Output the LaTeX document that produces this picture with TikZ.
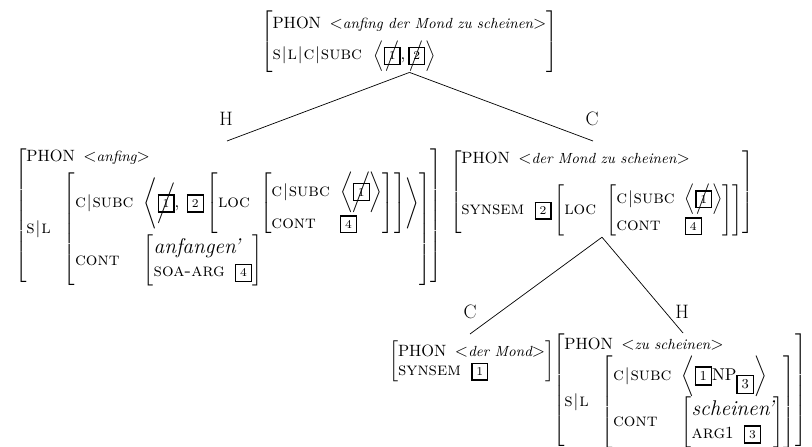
\documentclass[tikz,border=0pt]{standalone}
\usepackage{amsmath}
\usepackage{graphicx}

% feature names, path bars, PHON values and structure-sharing tags
\newcommand\F[1]{\text{\normalfont\fontsize{10.7}{12}\selectfont\scshape #1}}
\newcommand\pb{\mkern1mu|\mkern1mu}
\newcommand\Ph{\text{\normalfont\fontsize{9.6}{11}\selectfont PHON}}
\newcommand\pv[1]{\mathord{<}\text{\fontsize{8.6}{10}\selectfont\itshape #1}\mathord{>}}
\newcommand\tg[1]{\text{\fboxsep=2.2pt\fboxrule=0.8pt\fbox{\scriptsize #1}}}
\newcommand\tgL[1]{\text{\fboxsep=2.2pt\fboxrule=0.8pt\fbox{\footnotesize #1}}}
\newcommand\xt[2][\Big]{\text{\ooalign{\tg{#2}\cr\hidewidth$#1/$\hidewidth\cr}}}
\newcommand\sem[1]{\text{\fontsize{12.5}{15}\selectfont\itshape #1}}
\newcommand\AVM[1]{\scalebox{1.45}{$\renewcommand\arraystretch{1.12}#1$}}

\begin{document}
\begin{tikzpicture}[x=0.85pt,y=-0.85pt,
  avm/.style={inner sep=0pt,outer sep=0pt},
  lbl/.style={inner sep=0pt,font=\fontsize{16.5}{19}\selectfont},
  edge/.style={line width=0.6pt}]
\useasboundingbox (0,0) rectangle (812,447);

% mother
\node[avm,anchor=north] (root) at (409.5,11) {\AVM{\left[\begin{array}{@{}l@{}}
  \Ph\hspace{5pt}\pv{anfing der Mond zu scheinen}\\[3pt]
  \F{s}\pb\F{l}\pb\F{c}\pb\F{subc}\hspace{5pt}\left\langle\xt{1},\xt{2}\right\rangle
\end{array}\right]}};

% head daughter
\node[avm,anchor=north west] (head) at (15,145) {\AVM{\left[\begin{array}{@{}l@{}}
  \Ph\hspace{5pt}\pv{anfing}\\[2pt]
  \F{s}\pb\F{l}\hspace{6pt}\left[\begin{array}{@{}l@{\hspace{6pt}}l@{}}
    \F{c}\pb\F{subc} & \left\langle\xt[\bigg]{1},\;\tg{2}\left[\begin{array}{@{}l@{\hspace{6pt}}l@{}}
      \F{loc} & \left[\begin{array}{@{}l@{\hspace{6pt}}l@{}}
        \F{c}\pb\F{subc} & \left\langle\xt[\bigg]{1}\right\rangle\\
        \F{cont} & \tg{4}
      \end{array}\right]
    \end{array}\right]\right\rangle\\[7pt]
    \F{cont} & \left[\begin{array}{@{}l@{\hspace{6pt}}l@{}}
      \multicolumn{2}{@{}l@{}}{\sem{anfangen'}}\\
      \F{soa-arg} & \tg{4}
    \end{array}\right]
  \end{array}\right]
\end{array}\right]}};

% complement daughter
\node[avm,anchor=north west] (comp) at (450,147) {\AVM{\left[\begin{array}{@{}l@{}}
  \Ph\hspace{5pt}\pv{der Mond zu scheinen}\\[8pt]
  \F{synsem}\hspace{6pt}\tg{2}\left[\begin{array}{@{}l@{\hspace{6pt}}l@{}}
    \F{loc} & \left[\begin{array}{@{}l@{\hspace{6pt}}l@{}}
      \F{c}\pb\F{subc} & \left\langle\xt{1}\right\rangle\\[2pt]
      \F{cont} & \tg{4}
    \end{array}\right]
  \end{array}\right]
\end{array}\right]}};

% daughters of the complement
\node[avm,anchor=north west] (npd) at (389,340) {\AVM{\left[\begin{array}{@{}l@{}}
  \Ph\hspace{5pt}\pv{der Mond}\\[-2pt]
  \F{synsem}\hspace{6pt}\tg{1}\hspace{20pt}
\end{array}\right]}};

\node[avm,anchor=north west] (vpd) at (553,333) {\AVM{\left[\begin{array}{@{}l@{}}
  \Ph\hspace{5pt}\pv{zu scheinen}\\
  \F{s}\pb\F{l}\hspace{6pt}\left[\begin{array}{@{}l@{\hspace{6pt}}l@{}}
    \F{c}\pb\F{subc} & \left\langle\tgL{1}\mathrm{NP}_{\tgL{3}}\right\rangle\\[3pt]
    \F{cont} & \left[\begin{array}{@{}l@{\hspace{6pt}}l@{}}
      \multicolumn{2}{@{}l@{}}{\sem{scheinen'}}\\
      \F{arg}1 & \tg{3}
    \end{array}\right]
  \end{array}\right]
\end{array}\right]}};

% branch ends and branch labels
\coordinate (eH) at (227,141);
\coordinate (eC) at (593,141);
\coordinate (eC2) at (470,334);
\coordinate (eH2) at (683,333);
\node[lbl] (lH) at (226,119) {H};
\node[lbl] (lC) at (592,119) {C};
\node[lbl] (lC2) at (470,312) {C};
\node[lbl] (lH2) at (682,312) {H};

\draw[edge] (root.south) -- (eH);
\draw[edge] (root.south) -- (eC);
\draw[edge] (comp.south) -- (eC2);
\draw[edge] (comp.south) -- (eH2);
\end{tikzpicture}
\end{document}
